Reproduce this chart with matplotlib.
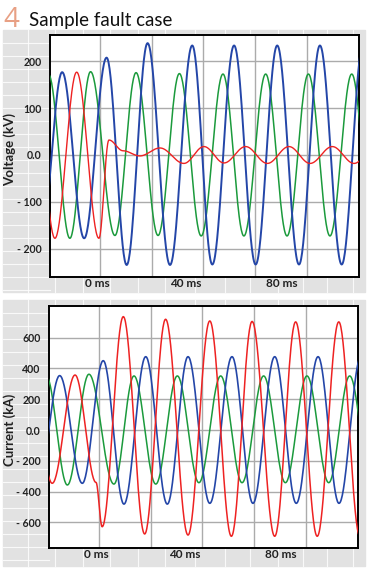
import numpy as np
import matplotlib.pyplot as plt
from matplotlib.patches import Rectangle

# ======================================
# Data (time in ms, peaks / troughs of each phase)
# ======================================

# voltage (kV)
v_blue_t = [-27.6, -17.7, -7.4, 3.1, 12.5, 22.3, 32.8, 43.2, 52.6, 62.8, 72.9, 83.0, 93.2, 103.0, 113.2, 123.2]
v_blue_v = [-178, 177, -178, 208, -235, 239, -235, 234, -234, 234, -234, 234, -234, 234, -234, 234]

v_green_t = [-34.1, -24.1, -14.1, -4.4, 7.0, 16.9, 27.2, 37.2, 47.4, 57.6, 67.4, 77.6, 87.6, 97.6, 107.7, 117.9, 127.9]
v_green_v = [-178, 172, -178, 178, -172, 176, -172, 174, -173, 173, -173, 173, -173, 173, -173, 173, -173]

v_red_t = [-31.0, -21.1, -10.9, -0.5, 4.2, 10.8, 18.7, 28.1, 39.3, 48.7, 58.1, 68.2, 78.4, 88.5, 98.4, 108.8, 119.0, 128.8]
v_red_v = [177, -178, 177, -178, 32, 9, -2, 15, -18, 18, -17, 18, -18, 18, -18, 18, -18, 18]

# current (kA)
i_blue_t = [-28.6, -18.4, -7.8, 2.0, 11.7, 21.9, 32.0, 41.7, 51.9, 62.3, 72.1, 82.3, 92.4, 102.6, 112.4, 122.7]
i_blue_v = [-346, 353, -346, 450, -481, 476, -481, 476, -476, 476, -476, 476, -476, 476, -476, 476]

i_green_t = [-34.7, -24.7, -14.8, -4.7, 7.0, 16.4, 26.6, 36.7, 46.8, 57.0, 67.0, 77.1, 87.3, 97.4, 107.6, 117.4, 127.4]
i_green_v = [-350, 350, -357, 362, -351, 351, -351, 351, -342, 351, -342, 351, -342, 351, -342, 351, -342]

i_red_t = [-31.9, -21.9, -11.2, -1.4, 1.5, 11.4, 21.4, 31.2, 41.7, 51.9, 62.0, 71.7, 82.3, 92.1, 102.2, 112.3, 122.2]
i_red_v = [357, -346, 357, -340, -628, 736, -675, 719, -682, 708, -690, 705, -690, 702, -690, 702, -690]

v_ticks = [200, 100, 0, -100, -200]
v_labels = ["200", "100", "0.0", "- 100", "- 200"]
i_ticks = [600, 400, 200, 0, -200, -400, -600]
i_labels = ["600", "400", "200", "0.0", "- 200", "- 400", "- 600"]

grid_ms = [0, 24.3, 48.4, 72.8, 97.1]
time_label_at = [-1.4, 40.3, 85.2]
time_labels = ["0 ms", "40 ms", "80 ms"]

BLUE = "#2446a8"
GREEN = "#1b9a3c"
RED = "#ee2222"


def wave(t_ext, v_ext, n=40):
    # smooth half-cosine strokes between the read peaks
    tt, vv = [], []
    for k in range(len(t_ext) - 1):
        s = np.linspace(0, 1, n, endpoint=False)
        tt.append(t_ext[k] + (t_ext[k + 1] - t_ext[k]) * s)
        vv.append(v_ext[k] + (v_ext[k + 1] - v_ext[k]) * (1 - np.cos(np.pi * s)) / 2)
    tt.append([t_ext[-1]])
    vv.append([v_ext[-1]])
    return np.concatenate(tt), np.concatenate(vv)


W, H = 368, 569
plt.rcParams['font.family'] = ['Open Sans', 'DejaVu Sans']
fig = plt.figure(figsize=(W / 100, H / 100), dpi=100)


def fx(px):
    return px / W


def fy(py):
    return 1 - py / H


def fline(x0, x1, y0, y1):
    fig.add_artist(plt.Line2D([fx(x0), fx(x1)], [fy(y0), fy(y1)], transform=fig.transFigure,
                              color="white", lw=0.8, alpha=0.8, zorder=-1))


# ======================================
# Grey panel backgrounds
# ======================================

for top, bot, ax_l, ax_b in [(30, 292, 50, 277), (300, 566, 49, 548)]:
    fig.patches.append(Rectangle((fx(3), fy(bot)), fx(362), (bot - top) / H,
                                 transform=fig.transFigure, color="#e2e2e2", zorder=-2))
    # faint table lines in the left band
    for yy in np.arange(top + 13, bot, 13):
        fline(3, ax_l, yy, yy)
    fline(28, 28, top, bot)
    for xx in [55, 83, 110, 138, 165, 195, 225, 250, 278, 303, 327, 353]:
        fline(xx, xx, ax_b + 1, bot)
        fline(xx, xx, top, top + 5)

# ======================================
# Axes
# ======================================

ax1 = fig.add_axes([fx(50), fy(277), 309 / W, 242 / H], zorder=2)
ax2 = fig.add_axes([fx(49), fy(548), 309 / W, 242 / H], zorder=2)

panels = [
    (ax1, (-260.7, 256.4), v_ticks, v_labels,
     [(v_green_t, v_green_v, GREEN, 1.1), (v_blue_t, v_blue_v, BLUE, 1.4), (v_red_t, v_red_v, RED, 1.0)]),
    (ax2, (-766, 805), i_ticks, i_labels,
     [(i_green_t, i_green_v, GREEN, 1.1), (i_blue_t, i_blue_v, BLUE, 1.2), (i_red_t, i_red_v, RED, 1.1)]),
]

for ax, ylim, ticks, labels, series in panels:
    ax.set_facecolor("white")
    ax.set_xlim(-23.4, 121.3)
    ax.set_ylim(*ylim)
    for g in grid_ms:
        ax.axvline(g, color="#ababab", lw=1.0, zorder=1)
    for t in ticks:
        ax.axhline(t, color="#ababab", lw=1.0, zorder=1)
    for t_ext, v_ext, col, lw in series:
        tt, vv = wave(t_ext, v_ext)
        ax.plot(tt, vv, color=col, lw=lw, zorder=3)
    ax.set_yticks(ticks)
    ax.set_yticklabels(labels, fontsize=7.6, fontweight="bold", color="#222222",
                       family=["Lato", "DejaVu Sans"])
    ax.set_xticks(time_label_at)
    ax.set_xticklabels(time_labels, fontsize=8.5, fontweight="bold", color="#222222",
                       family=["Lato", "DejaVu Sans"])
    ax.tick_params(length=0, axis="y", pad=6)
    ax.tick_params(length=0, axis="x", pad=1.0)
    for sp in ax.spines.values():
        sp.set_color("black")
        sp.set_linewidth(1.4)

fig.text(fx(10), fy(150), "Voltage (kV)", rotation=90, ha="center", va="center",
         fontsize=9.5, fontweight="bold", color="#222222", family=["Lato", "DejaVu Sans"])
fig.text(fx(10), fy(430), "Current (kA)", rotation=90, ha="center", va="center",
         fontsize=9.5, fontweight="bold", color="#222222", family=["Lato", "DejaVu Sans"])

# ======================================
# Title
# ======================================

fig.text(fx(3), fy(27), "4", fontsize=20, color="#e8a084", ha="left", va="baseline")
fig.text(fx(29), fy(26), "Sample fault case", fontsize=13.5, color="#111111",
         ha="left", va="baseline", family=["Lato", "DejaVu Sans"])

fig.savefig("out.png", dpi=100, facecolor="white")
